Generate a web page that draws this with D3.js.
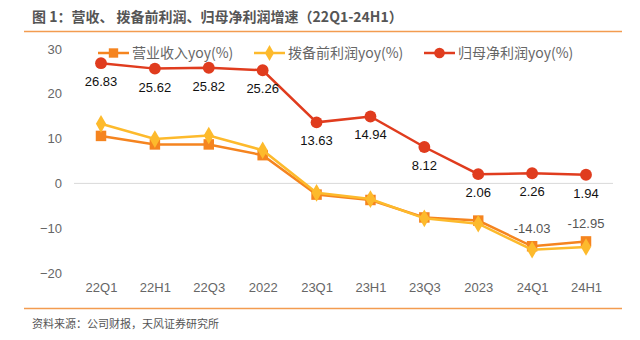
<!DOCTYPE html>
<html>
<head>
<meta charset="utf-8">
<script src="https://cdn.jsdelivr.net/npm/d3@7"></script>
<style>
  body { margin: 0; background: #fff; }
  svg { display: block; font-family: "Liberation Sans", "Noto Sans CJK SC", sans-serif; }
</style>
</head>
<body>
<svg width="640" height="340"></svg>
<script>
// periods on the x axis
var categories = ["22Q1", "22H1", "22Q3", "2022", "23Q1", "23H1", "23Q3", "2023", "24Q1", "24H1"];
// series, yoy %
var revenue = [10.6, 8.7, 8.7, 6.3, -2.5, -3.7, -7.6, -8.3, -14.03, -12.95];
var preProvision = [13.3, 9.9, 10.7, 7.4, -2.1, -3.5, -7.8, -9.0, -14.8, -14.2];
var netProfit = [26.83, 25.62, 25.82, 25.26, 13.63, 14.94, 8.12, 2.06, 2.26, 1.94];
var yTicks = [30, 20, 10, 0, -10, -20];

var cjk = '"Noto Sans CJK SC", sans-serif';
var svg = d3.select('svg');

// title + rules
svg.append('text')
    .attr('x', 32).attr('y', 22)
    .style('font-family', cjk).style('font-size', '14px').style('font-weight', 'bold')
    .style('fill', '#555')
    .text('图 1：营收、 拨备前利润、归母净利润增速（22Q1-24H1）');
svg.append('line').attr('x1', 24).attr('x2', 622).attr('y1', 31.5).attr('y2', 31.5)
    .style('stroke', '#F39C50').style('stroke-width', 1.5);
svg.append('line').attr('x1', 24).attr('x2', 622).attr('y1', 308.5).attr('y2', 308.5)
    .style('stroke', '#F39C50').style('stroke-width', 1.5);
svg.append('text')
    .attr('x', 32).attr('y', 328)
    .style('font-family', cjk).style('font-size', '11px').style('fill', '#555')
    .text('资料来源：公司财报，天风证券研究所');

var x = d3.scalePoint().domain(categories).range([101, 586]);
var y = d3.scaleLinear().domain([-20, 30]).range([273, 49]);

// zero line
svg.append('line').attr('x1', 74).attr('x2', 613)
    .attr('y1', y(0)).attr('y2', y(0))
    .style('stroke', '#d9d9d9').style('stroke-width', 1);

// y axis labels
var yAxis = svg.append('g')
    .attr('transform', 'translate(62,0)')
    .call(d3.axisLeft(y).tickValues(yTicks).tickSize(0).tickPadding(0));
yAxis.select('.domain').remove();
yAxis.selectAll('text').style('font-size', '13px').style('fill', '#666')
    .style('font-family', '"Liberation Sans", sans-serif');

// x axis labels
var xAxis = svg.append('g')
    .attr('transform', 'translate(0,283)')
    .call(d3.axisBottom(x).tickSize(0).tickPadding(0));
xAxis.select('.domain').remove();
xAxis.selectAll('text').style('font-size', '13px').style('fill', '#666')
    .style('font-family', '"Liberation Sans", sans-serif');

var series = [
    { name: '营业收入yoy(%)', values: revenue, color: '#F5841F', shape: d3.symbolSquare, size: 110 },
    { name: '拨备前利润yoy(%)', values: preProvision, color: '#FDBA2C', shape: d3.symbolDiamond, size: 90 },
    { name: '归母净利润yoy(%)', values: netProfit, color: '#E03C1E', shape: d3.symbolCircle, size: 110 }
];

var line = d3.line().x((d, i) => x(categories[i])).y(d => y(d));

series.forEach(function(s) {
    var g = svg.append('g');
    g.append('path')
        .attr('d', line(s.values))
        .style('fill', 'none').style('stroke', s.color).style('stroke-width', 2.5);
    g.selectAll('path.pt')
        .data(s.values)
        .enter()
            .append('path')
            .attr('class', 'pt')
            .attr('d', d3.symbol().type(s.shape).size(s.size))
            .attr('transform', (d, i) => 'translate(' + x(categories[i]) + ',' + y(d) + ')')
            .style('fill', s.color);
});

// net profit labels below points
svg.append('g').selectAll('text')
    .data(netProfit)
    .enter()
        .append('text')
        .attr('x', (d, i) => x(categories[i]))
        .attr('y', d => y(d) + 23)
        .attr('text-anchor', 'middle')
        .style('font-size', '13px').style('fill', '#111')
        .text(d => d.toFixed(2));

// revenue labels for last two points
svg.append('g').selectAll('text')
    .data(revenue.slice(-2))
    .enter()
        .append('text')
        .attr('x', (d, i) => x(categories[categories.length - 2 + i]))
        .attr('y', d => y(d) - 13)
        .attr('text-anchor', 'middle')
        .style('font-size', '13px').style('fill', '#555')
        .text(d => d.toFixed(2));

// legend
var legendX = [98, 254, 424];
series.forEach(function(s, i) {
    var g = svg.append('g').attr('transform', 'translate(' + legendX[i] + ',53)');
    g.append('line').attr('x1', 0).attr('x2', 31).attr('y1', 0).attr('y2', 0)
        .style('stroke', s.color).style('stroke-width', 2.5);
    g.append('path')
        .attr('d', d3.symbol().type(s.shape).size(s.size * 0.8))
        .attr('transform', 'translate(15.5,0)')
        .style('fill', s.color);
    g.append('text').attr('x', 34).attr('y', 5)
        .style('font-family', cjk).style('font-size', '14px').style('fill', '#666')
        .text(s.name);
});
</script>
</body>
</html>
